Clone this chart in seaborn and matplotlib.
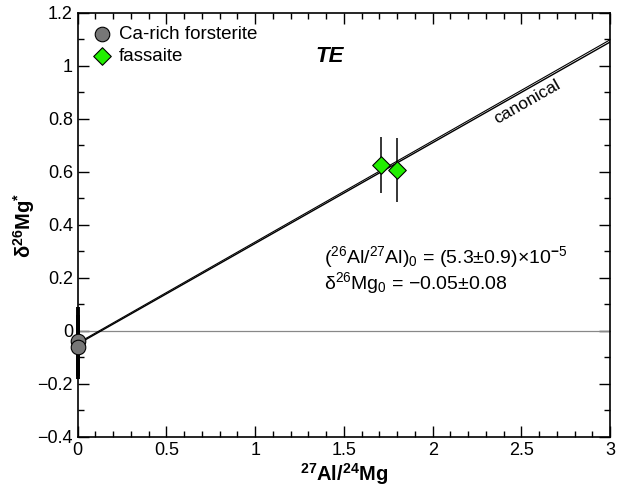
import matplotlib
matplotlib.use("Agg")
import matplotlib.pyplot as plt
import seaborn as sns
import numpy as np
import pandas as pd
from matplotlib.ticker import MultipleLocator, FuncFormatter

# Measured data
forst_x = [0.003, 0.003]
forst_y = [-0.04, -0.06]
forst_err = [0.13, 0.12]

fass_x = [1.71, 1.80]
fass_y = [0.625, 0.607]
fass_err = [0.105, 0.12]

# Isochron fit and canonical reference
fit_intercept = -0.05
fit_slope = 0.380
canon_intercept = -0.046
canon_slope = 0.3815

sns.set_theme(style="white")
plt.rcParams["font.family"] = ["Liberation Sans", "DejaVu Sans"]
plt.rcParams["mathtext.fontset"] = "custom"
plt.rcParams["mathtext.rm"] = "Liberation Sans"
plt.rcParams["mathtext.it"] = "Liberation Sans:italic"
plt.rcParams["mathtext.bf"] = "Liberation Sans:bold"
plt.rcParams["text.color"] = "black"
plt.rcParams["axes.labelcolor"] = "black"
plt.rcParams["xtick.color"] = "black"
plt.rcParams["ytick.color"] = "black"

fig = plt.figure(figsize=(6.17, 4.92), dpi=100)
ax = fig.add_axes([0.126, 0.112, 0.863, 0.862])

ax.axhline(0, color="#888888", lw=0.9, zorder=1)

xs = np.array([0, 3])
ax.plot(xs, fit_intercept + fit_slope * xs, color="black", lw=1.0, zorder=2)
ax.plot(xs, canon_intercept + canon_slope * xs, color="black", lw=0.8, zorder=2)

ax.errorbar(forst_x, forst_y, yerr=forst_err, fmt="none", ecolor="black",
            elinewidth=2.8, capsize=0, zorder=3, clip_on=False)
ax.errorbar(fass_x, fass_y, yerr=fass_err, fmt="none", ecolor="black",
            elinewidth=1.1, capsize=0, zorder=3)

df_f = pd.DataFrame({"x": forst_x, "y": forst_y})
df_p = pd.DataFrame({"x": fass_x, "y": fass_y})
sns.scatterplot(data=df_f, x="x", y="y", ax=ax, marker="o", s=110,
                color="#777777", edgecolor="black", linewidth=0.8, zorder=4,
                label="Ca-rich forsterite", clip_on=False)
sns.scatterplot(data=df_p, x="x", y="y", ax=ax, marker="D", s=80,
                color="#22ee00", edgecolor="black", linewidth=0.8, zorder=4,
                label="fassaite")

ax.set_xlim(0, 3)
ax.set_ylim(-0.4, 1.2)
ax.xaxis.set_major_locator(MultipleLocator(0.5))
ax.xaxis.set_minor_locator(MultipleLocator(0.1))
ax.yaxis.set_major_locator(MultipleLocator(0.2))
ax.yaxis.set_minor_locator(MultipleLocator(0.1))

def fmt(v, pos):
    s = f"{v:.1f}".rstrip("0").rstrip(".")
    if s == "-0":
        s = "0"
    return s.replace("-", "\u2212")

ax.xaxis.set_major_formatter(FuncFormatter(fmt))
ax.yaxis.set_major_formatter(FuncFormatter(fmt))
ax.tick_params(which="both", direction="in", top=True, right=True,
               bottom=True, left=True, colors="black", labelsize=13)
ax.tick_params(which="major", length=8, width=1)
ax.tick_params(which="minor", length=4, width=1)
for sp in ax.spines.values():
    sp.set_color("black")
    sp.set_linewidth(1.2)

ax.set_xlabel(r"$\mathbf{^{27}Al/^{24}Mg}$", fontsize=14.5, labelpad=2)
ax.set_ylabel(r"$\mathbf{\delta^{26}Mg^{*}}$", fontsize=14.5, labelpad=0)

ax.text(1.42, 1.035, "TE", fontsize=16, fontweight="bold", style="italic",
        ha="center", va="center")
ax.text(2.53, 0.865, "canonical", fontsize=12.5, rotation=29.6,
        ha="center", va="center", rotation_mode="anchor")
ax.text(1.39, 0.28, r"($^{26}$Al/$^{27}$Al)$_0$ = (5.3±0.9)×10$^{\mathbf{-}5}$",
        fontsize=14, ha="left", va="center")
ax.text(1.39, 0.18, r"δ$^{26}$Mg$_0$ = −0.05±0.08",
        fontsize=14, ha="left", va="center")

leg = ax.legend(loc="upper left", frameon=False, fontsize=13.5,
                handletextpad=0.3, borderaxespad=0.3, labelspacing=0.25,
                handlelength=1.2)

fig.savefig("out.png", dpi=100)
